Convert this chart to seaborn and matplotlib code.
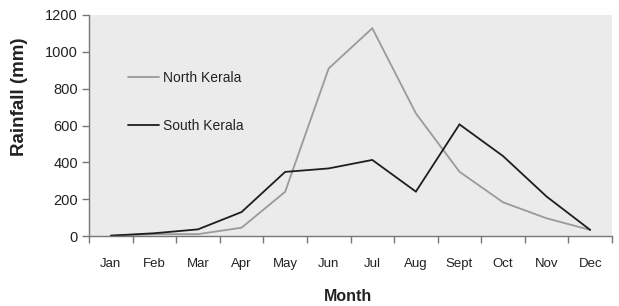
import matplotlib
matplotlib.use("Agg")
import matplotlib.pyplot as plt
import seaborn as sns
import pandas as pd
import numpy as np

months = ["Jan", "Feb", "Mar", "Apr", "May", "Jun", "Jul", "Aug", "Sept", "Oct", "Nov", "Dec"]
north_kerala = [2, 10, 10, 45, 240, 910, 1128, 666, 349, 183, 96, 33]
south_kerala = [2, 15, 36, 130, 348, 367, 413, 241, 606, 434, 214, 33]
y_ticks = [0, 200, 400, 600, 800, 1000, 1200]

df = pd.DataFrame({
    "Month": months * 2,
    "Rainfall": north_kerala + south_kerala,
    "Region": ["North Kerala"] * 12 + ["South Kerala"] * 12,
})

sns.set_style("white")
plt.rcParams["font.family"] = ["Liberation Sans", "DejaVu Sans"]

fig = plt.figure(figsize=(6.19, 3.06), dpi=100)
ax = fig.add_axes([89/619, 1-236/306, 523/619, 221/306])
ax.set_facecolor("#ebebeb")

sns.lineplot(data=df, x="Month", y="Rainfall", hue="Region", sort=False,
             palette={"North Kerala": "#9a9a9a", "South Kerala": "#1e1e1e"},
             ax=ax, linewidth=1.3)
for line in ax.lines:
    line.set_solid_joinstyle("miter")

ax.set_xlim(-0.5, 11.5)
ax.set_ylim(0, 1200)
ax.set_yticks(y_ticks)
ax.set_yticklabels([str(v) for v in y_ticks], fontsize=10.5, color="#222")
ax.set_xticks(range(12))
ax.set_xticklabels(months, fontsize=9.5, color="#222")
ax.set_xticks(np.arange(-0.5, 12, 1), minor=True)
ax.tick_params(axis="x", which="major", length=0, pad=16)
ax.tick_params(axis="x", which="minor", length=5, color="#777", width=1, direction="out", bottom=True)
ax.tick_params(axis="y", length=5, color="#777", width=1, direction="out", left=True, pad=3)

for s in ["top", "right"]:
    ax.spines[s].set_visible(False)
for s in ["left", "bottom"]:
    ax.spines[s].set_color("#777")
    ax.spines[s].set_linewidth(1)

ax.set_xlabel("Month", fontsize=11.5, fontweight="bold", color="#222")
ax.set_ylabel("Rainfall (mm)", fontsize=13.5, fontweight="bold", color="#222")
ax.xaxis.set_label_coords(0.495, -0.24)
ax.yaxis.set_label_coords(-0.117, 0.63)

leg = ax.legend(loc="upper left", bbox_to_anchor=(0.0746, 0.745), frameon=False,
                fontsize=10, handlelength=2.2, handletextpad=0.35, labelspacing=2.4,
                borderpad=0, borderaxespad=0)
for t in leg.get_texts():
    t.set_color("#222")

fig.savefig("out.png", dpi=100, facecolor="white")
